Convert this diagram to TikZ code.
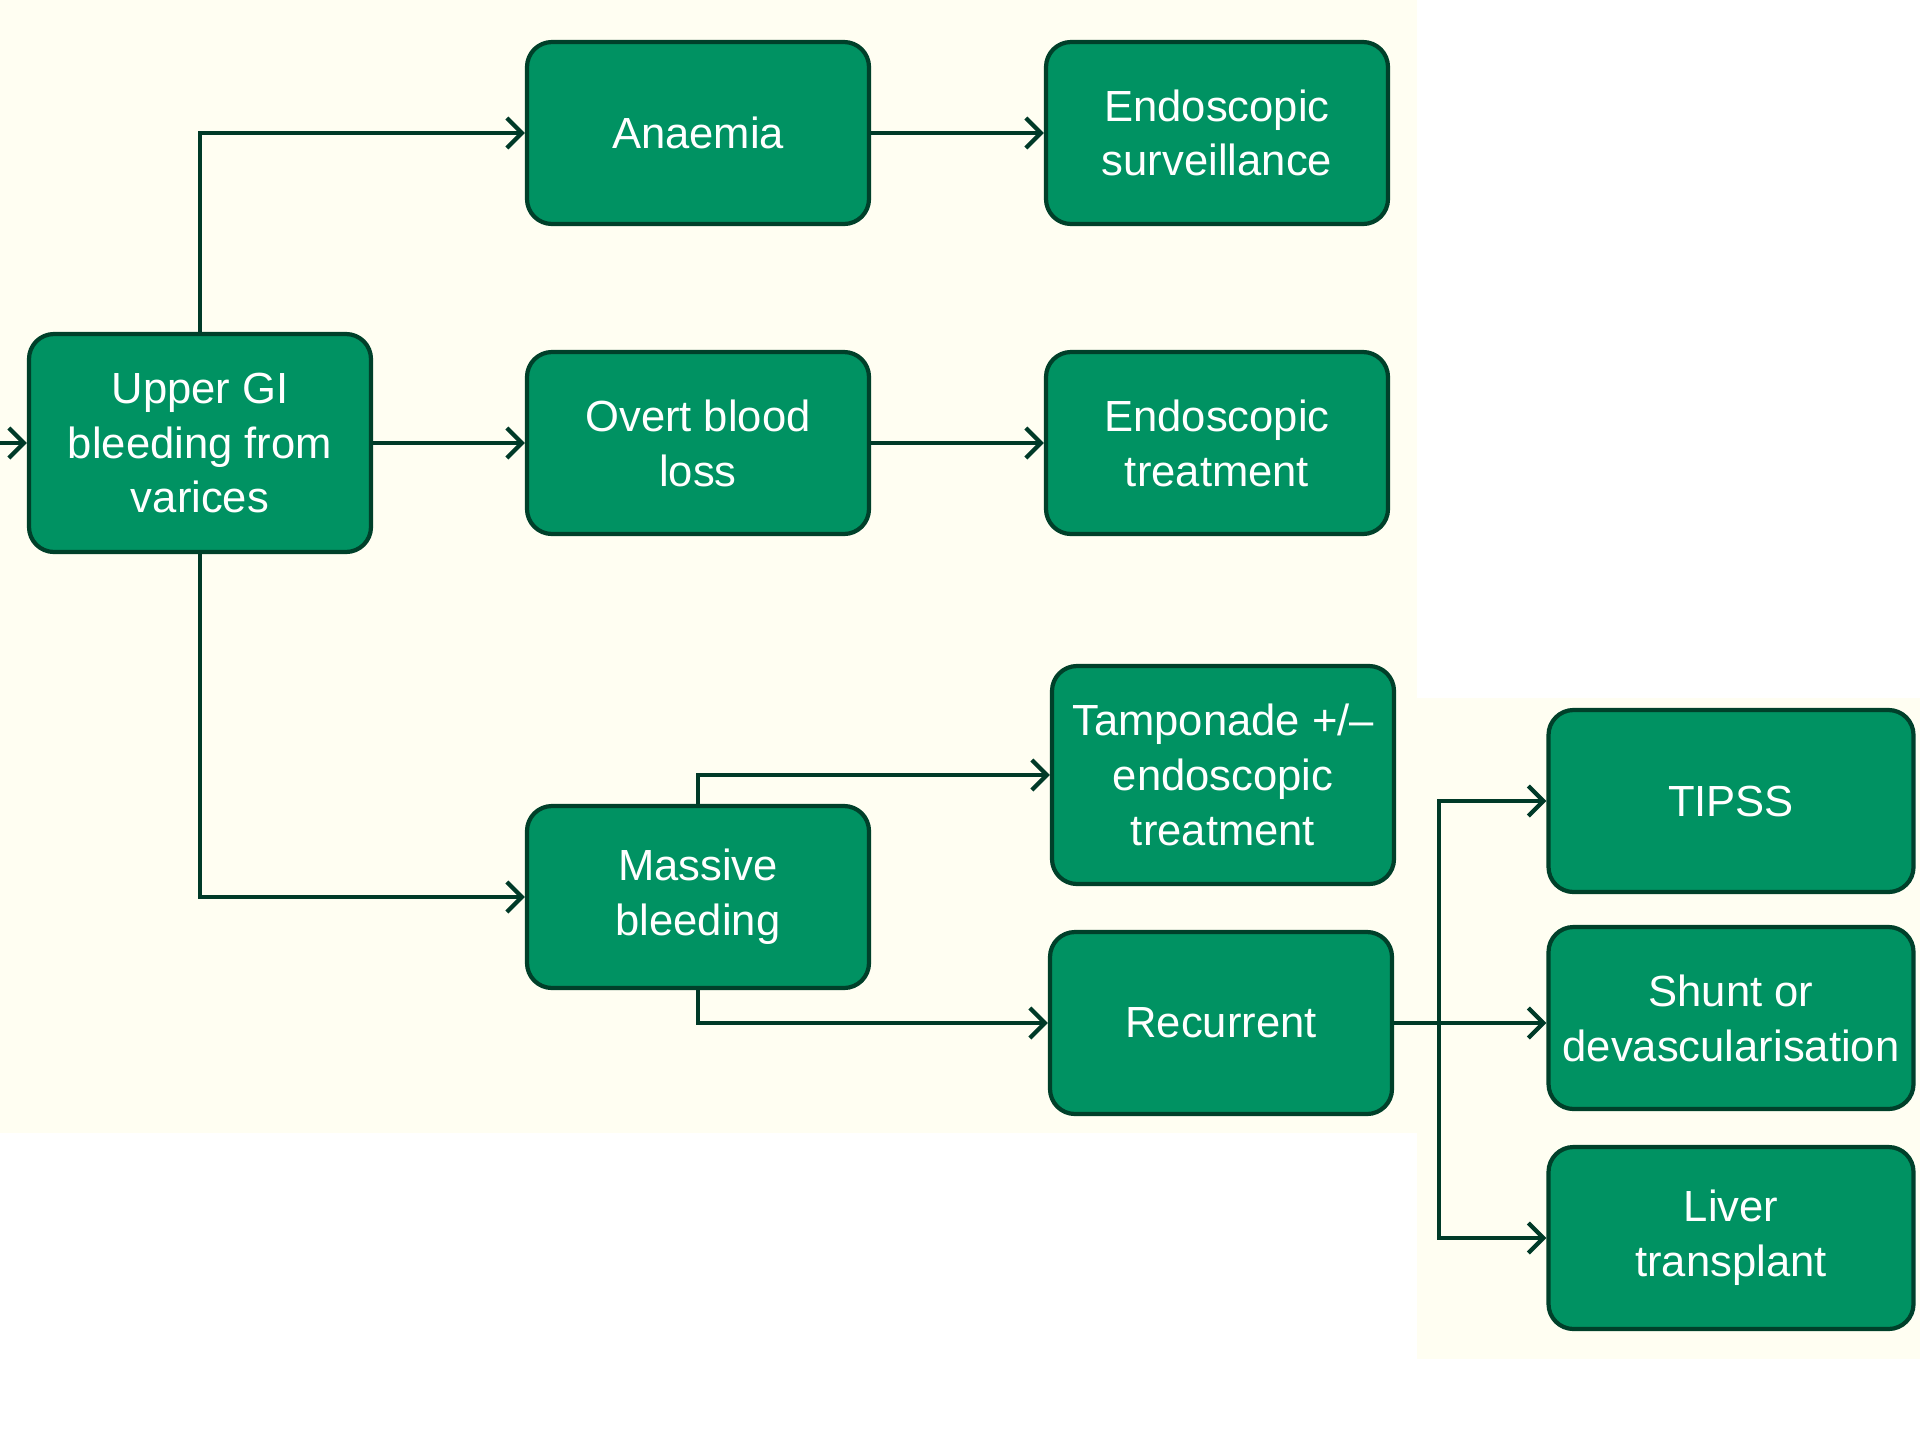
\documentclass[tikz,border=0pt]{standalone}
\usepackage{fontspec}
\newfontfamily\boxfont{Liberation Sans}
\usepackage{tikz}
\usetikzlibrary{arrows.meta, positioning}

\definecolor{boxgreen}{HTML}{009262}
\definecolor{edgegreen}{HTML}{00402A}
\definecolor{linegreen}{HTML}{003A28}
\definecolor{cream}{HTML}{FFFEF2}

\begin{document}
\begin{tikzpicture}[x=1cm, y=1cm,
stage/.style={rectangle, rounded corners=0.25cm, draw=edgegreen, line width=1.2pt,
  fill=boxgreen, text=white, align=center, minimum width=3.42cm, minimum height=1.82cm,
  font=\boxfont\fontsize{12.4}{15.6}\selectfont, inner sep=2pt},
tall/.style={minimum height=2.18cm},
wide/.style={minimum width=3.65cm},
flow/.style={draw=linegreen, line width=1.2pt, -{Straight Barb[length=1.5mm, width=3mm]}}]

\useasboundingbox (0,0) rectangle (19.2,-14.4);
% background panels
\fill[cream] (0,0) rectangle (14.17,-11.33);
\fill[cream] (14.17,-6.98) rectangle (19.2,-13.59);

% first column
\node[stage, tall] (Upper) at (2.00,-4.43) {Upper GI\\bleeding from\\varices};
\coordinate (Entry) at (0,-4.43);

% second column
\node[stage] (Anaemia) at (6.98,-1.33) {Anaemia};
\node[stage] (Overt) at (6.98,-4.43) {Overt blood\\loss};
\node[stage] (Massive) at (6.98,-8.97) {Massive\\bleeding};

% third column
\node[stage] (Surveil) at (12.17,-1.33) {Endoscopic\\surveillance};
\node[stage] (EndoTreat) at (12.17,-4.43) {Endoscopic\\treatment};
\node[stage, tall] (Tamponade) at (12.23,-7.75) {Tamponade +/–\\endoscopic\\treatment};
\node[stage] (Recurrent) at (12.21,-10.23) {Recurrent};

% fourth column
\node[stage, wide] (TIPSS) at (17.31,-8.01) {TIPSS};
\node[stage, wide] (Shunt) at (17.31,-10.18) {Shunt or\\devascularisation};
\node[stage, wide] (Liver) at (17.31,-12.38) {Liver\\transplant};
\coordinate (Split) at (14.39,-10.23);

\draw[flow] (Entry) -- (Upper);
\draw[flow] (Upper.north) |- (Anaemia);
\draw[flow] (Upper) -- (Overt);
\draw[flow] (Upper.south) |- (Massive);

\draw[flow] (Anaemia) -- (Surveil);
\draw[flow] (Overt) -- (EndoTreat);
\draw[flow] (Massive.north) |- (Tamponade);
\draw[flow] (Massive.south) |- (Recurrent);

\draw[draw=linegreen, line width=1.2pt] (Recurrent.east) -- (Split);
\draw[flow] (Split) |- (TIPSS);
\draw[flow] (Split) -- (Shunt.west |- Split);
\draw[flow] (Split) |- (Liver);

\end{tikzpicture}
\end{document}
